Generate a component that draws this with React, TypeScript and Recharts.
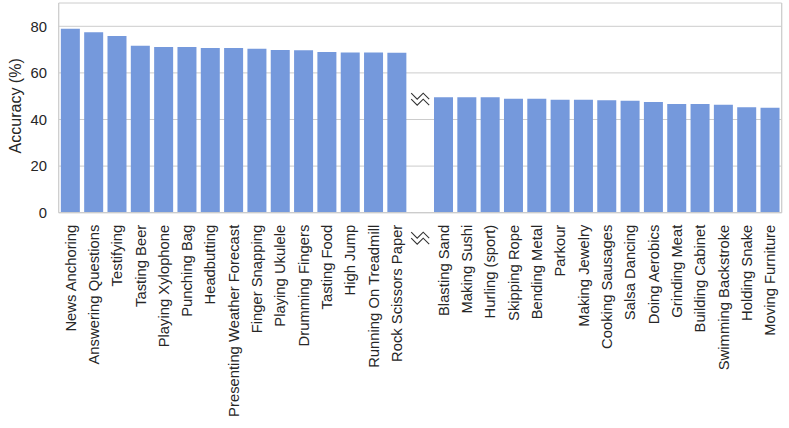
import React from 'react';
import { BarChart, Bar, XAxis, YAxis, CartesianGrid, ReferenceDot } from 'recharts';

const topActions = [
  'News Anchoring', 'Answering Questions', 'Testifying', 'Tasting Beer', 'Playing Xylophone',
  'Punching Bag', 'Headbutting', 'Presenting Weather Forecast', 'Finger Snapping', 'Playing Ukulele',
  'Drumming Fingers', 'Tasting Food', 'High Jump', 'Running On Treadmill', 'Rock Scissors Paper',
];
const topAccuracy = [78.9, 77.4, 75.8, 71.7, 71.1, 71.1, 70.7, 70.7, 70.4, 69.8, 69.7, 69.0, 68.8, 68.8, 68.7];

const bottomActions = [
  'Blasting Sand', 'Making Sushi', 'Hurling (sport)', 'Skipping Rope', 'Bending Metal',
  'Parkour', 'Making Jewelry', 'Cooking Sausages', 'Salsa Dancing', 'Doing Aerobics',
  'Grinding Meat', 'Building Cabinet', 'Swimming Backstroke', 'Holding Snake', 'Moving Furniture',
];
const bottomAccuracy = [49.5, 49.5, 49.5, 48.9, 48.9, 48.5, 48.5, 48.3, 48.0, 47.5, 46.7, 46.6, 46.3, 45.3, 45.0];

const yTicks = [0, 20, 40, 60, 80];
const GAP = '__gap__';
const breakMarkerLevel = 48.7;

const data = [
  ...topActions.map((name, i) => ({ name, acc: topAccuracy[i] })),
  { name: GAP, acc: null },
  ...bottomActions.map((name, i) => ({ name, acc: bottomAccuracy[i] })),
];

const FONT = '"Liberation Sans", Arial, sans-serif';
const TEXT = '#262626';
const FS = 14.8;
const LABEL_FS = 16;

const BreakMark = ({ cx, cy }: { cx: number; cy: number }) => {
  const z = (dy: number) =>
    [[-9, -6], [-3, 0], [3, -6], [9, 0]]
      .map(([a, b]) => `${cx + a},${cy + b + dy}`)
      .join(' ');
  return (
    <g>
      <rect x={cx - 11} y={cy - 8} width={22} height={16} fill="#fff" />
      <polyline points={z(0)} fill="none" stroke="#333" strokeWidth={1.1} />
      <polyline points={z(6)} fill="none" stroke="#333" strokeWidth={1.1} />
    </g>
  );
};

const XTick = (props: any) => {
  const { x, y, payload } = props;
  if (payload.value === GAP) {
    return <BreakMark cx={x} cy={y + 13.5} />;
  }
  return (
    <text
      x={x}
      y={y}
      transform={`rotate(-90 ${x} ${y})`}
      textAnchor="end"
      dy="0.35em"
      style={{ fontSize: FS, fontFamily: FONT }}
      fill={TEXT}
    >
      {payload.value}
    </text>
  );
};

const YTick = (props: any) => {
  const { x, y, payload } = props;
  return (
    <text x={x} y={y} textAnchor="end" dy="0.36em" style={{ fontSize: FS, fontFamily: FONT }} fill={TEXT}>
      {payload.value}
    </text>
  );
};

const YLabel = (props: any) => {
  const vb = props.viewBox || {};
  const x = (vb.x ?? 0) + 15;
  const y = (vb.y ?? 0) + (vb.height ?? 0) / 2 - 2;
  return (
    <text
      x={x}
      y={y}
      transform={`rotate(-90 ${x} ${y})`}
      textAnchor="middle"
      dy="0.35em"
      style={{ fontSize: LABEL_FS, fontFamily: FONT }}
      fill={TEXT}
    >
      Accuracy (%)
    </text>
  );
};

export default function App() {
  return (
    <div style={{ position: 'absolute', left: 0, top: 0, background: '#fff' }}>
      <BarChart
        width={789}
        height={428}
        data={data}
        margin={{ top: 3, right: 0, left: 0, bottom: 0 }}
        barCategoryGap={2.15}
      >
        <CartesianGrid vertical={false} stroke="#cccccc" strokeWidth={1} />
        <XAxis
          dataKey="name"
          interval={0}
          height={215.3}
          tickSize={0}
          tickMargin={12}
          tick={<XTick />}
          axisLine={{ stroke: '#cccccc', strokeWidth: 1.25 }}
          tickLine={false}
        />
        <XAxis
          xAxisId="top"
          orientation="top"
          dataKey="name"
          height={0}
          tick={false}
          tickLine={false}
          axisLine={{ stroke: '#cccccc', strokeWidth: 1.25 }}
        />
        <YAxis
          width={58.7}
          domain={[0, 90]}
          ticks={yTicks}
          tickSize={0}
          tickMargin={11.7}
          tickLine={false}
          axisLine={{ stroke: '#cccccc', strokeWidth: 1.25 }}
          tick={<YTick />}
          label={<YLabel />}
        />
        <YAxis
          yAxisId="right"
          orientation="right"
          width={7.3}
          domain={[0, 90]}
          tick={false}
          tickLine={false}
          axisLine={{ stroke: '#cccccc', strokeWidth: 1.25 }}
        />
        <Bar dataKey="acc" fill="#7599DC" isAnimationActive={false} />
        <ReferenceDot
          x={GAP}
          y={breakMarkerLevel}
          r={0}
          ifOverflow="visible"
          shape={(p: any) => <BreakMark cx={p.cx} cy={p.cy} />}
        />
      </BarChart>
    </div>
  );
}
